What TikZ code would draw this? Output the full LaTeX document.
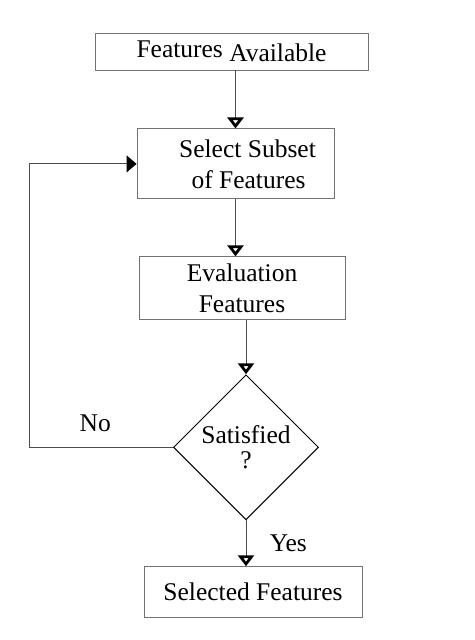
\documentclass[tikz,border=0pt]{standalone}
\usepackage{fontspec}
\setmainfont{Liberation Serif}
\usetikzlibrary{positioning,shapes.geometric,arrows.meta}

\begin{document}
\begin{tikzpicture}[x=1pt, y=-1pt,
    box/.style={draw=black!55, line width=0.9pt, align={center}, font=\fontsize{25.5pt}{31pt}\selectfont},
    decision/.style={diamond, draw=black, line width=1pt, inner sep=0pt, align={center}, minimum width=145pt, minimum height=145pt, font=\fontsize{25.5pt}{25pt}\selectfont},
    lbl/.style={font=\fontsize{25.5pt}{31pt}\selectfont},
    arr/.style={draw=black!70, line width=0.9pt, -{Triangle[open, length=11pt, width=16pt, line width=2.8pt, color=black]}},
    arrfill/.style={draw=black!70, line width=0.9pt, -{Triangle[length=10pt, width=17pt, color=black]}}
  ]
  \useasboundingbox (0,0) rectangle (474,640);
  \node[box, minimum width=273pt, minimum height=37pt] (feat) at (231.5,51.5) {Features \raisebox{-4pt}{Available}};
  \node[box, minimum width=197pt, minimum height=70pt, below=58pt of feat, xshift=4pt] (selsub) {\hspace*{24pt}Select Subset\\ \hspace*{26pt}of Features};
  \node[box, minimum width=206pt, minimum height=63pt, below=57pt of selsub, xshift=6.5pt] (evalfeat) {Evaluation\\ Features};
  \node[decision, below=54pt of evalfeat, xshift=4pt] (satisfied) {Satisfied\\ ?};
  \node[box, minimum width=218pt, minimum height=51pt, below=46pt of satisfied, xshift=7pt] (selfeat) {Selected Features};

  \draw[arr] (selsub.north |- feat.south) -- (selsub.north);
  \draw[arr] (selsub.south) -- (selsub.south |- evalfeat.north);
  \draw[arr] (satisfied.north |- evalfeat.south) -- (satisfied.north);
  \draw[arr] (satisfied.south) -- node[lbl, right=20pt] (yes) {Yes} (satisfied.south |- selfeat.north);
  \draw[arrfill] (satisfied.west) -- node[lbl, pos=0.54, above=12pt] (no) {No} ++(-144,0) |- (selsub.west);
\end{tikzpicture}
\end{document}
